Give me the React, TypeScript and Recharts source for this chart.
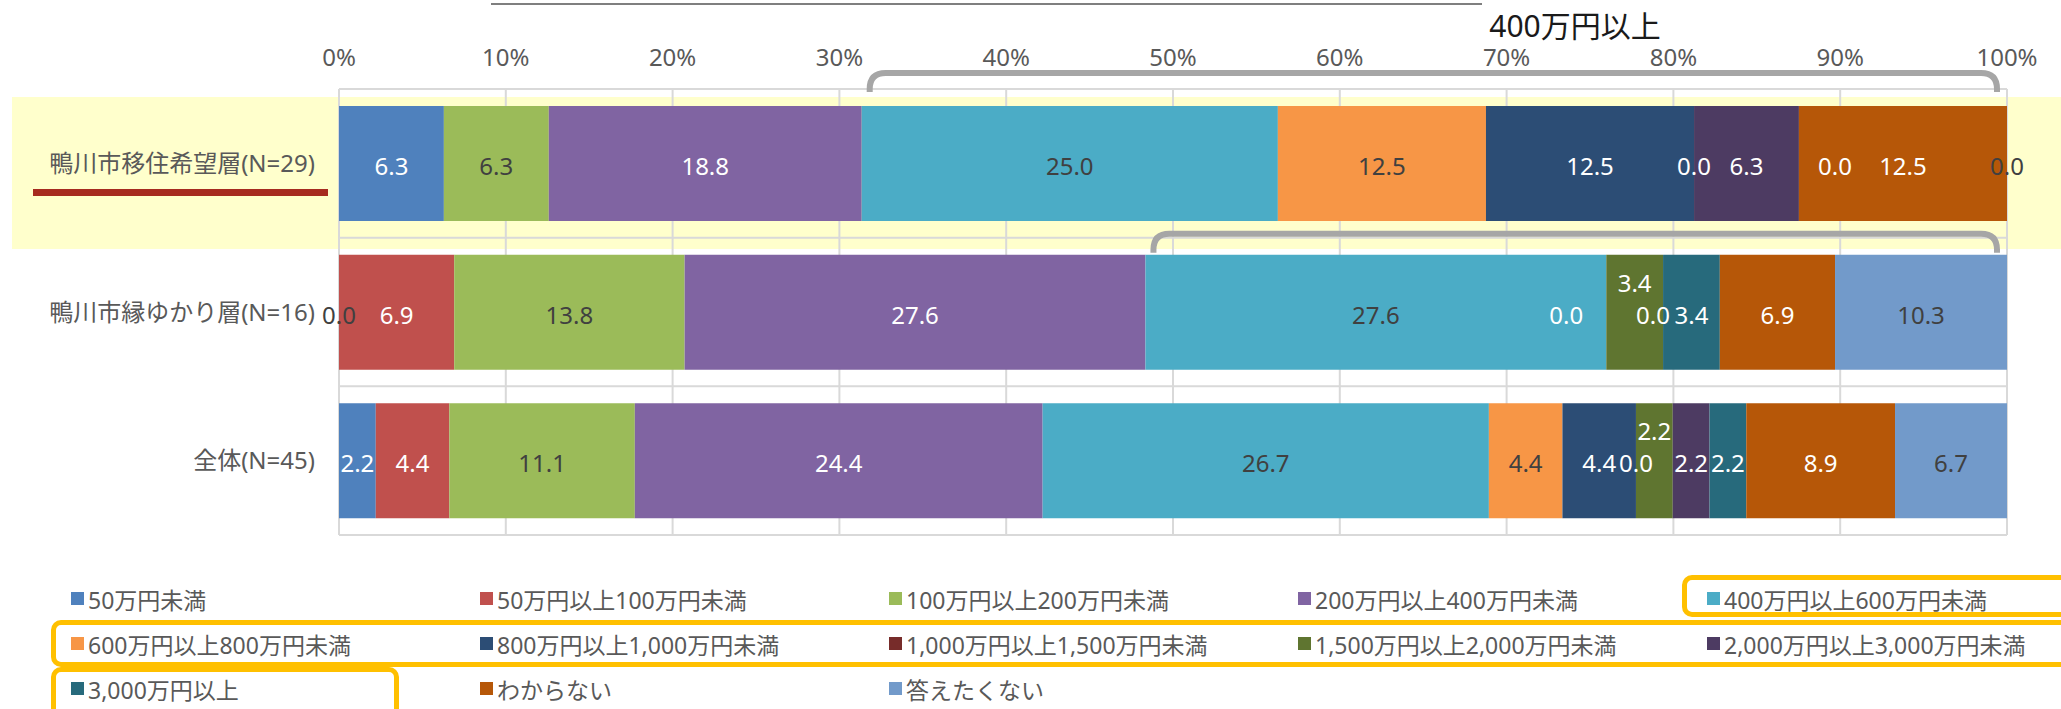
import {
  BarChart,
  Bar,
  XAxis,
  YAxis,
  CartesianGrid,
  LabelList,
  Legend,
  ReferenceArea,
  ReferenceDot,
} from "recharts";

const categories = ["鴨川市移住希望層(N=29)", "鴨川市縁ゆかり層(N=16)", "全体(N=45)"];

const seriesNames = [
  "50万円未満",
  "50万円以上100万円未満",
  "100万円以上200万円未満",
  "200万円以上400万円未満",
  "400万円以上600万円未満",
  "600万円以上800万円未満",
  "800万円以上1,000万円未満",
  "1,000万円以上1,500万円未満",
  "1,500万円以上2,000万円未満",
  "2,000万円以上3,000万円未満",
  "3,000万円以上",
  "わからない",
  "答えたくない",
];

const seriesColors = [
  "#4F81BD",
  "#C0504D",
  "#9BBB59",
  "#8064A2",
  "#4BACC6",
  "#F79646",
  "#2C4D75",
  "#772C2A",
  "#5F7530",
  "#4D3B62",
  "#276A7C",
  "#B65708",
  "#729ACA",
];

// values per series (%), in category order
const under50 = [6.3, 0.0, 2.2];
const from50to100 = [0.0, 6.9, 4.4];
const from100to200 = [6.3, 13.8, 11.1];
const from200to400 = [18.8, 27.6, 24.4];
const from400to600 = [25.0, 27.6, 26.7];
const from600to800 = [12.5, 0.0, 4.4];
const from800to1000 = [12.5, 0.0, 4.4];
const from1000to1500 = [0.0, 0.0, 0.0];
const from1500to2000 = [0.0, 3.4, 2.2];
const from2000to3000 = [6.3, 0.0, 2.2];
const over3000 = [0.0, 3.4, 2.2];
const unknown = [12.5, 6.9, 8.9];
const noAnswer = [0.0, 10.3, 6.7];

const seriesValues = [
  under50,
  from50to100,
  from100to200,
  from200to400,
  from400to600,
  from600to800,
  from800to1000,
  from1000to1500,
  from1500to2000,
  from2000to3000,
  over3000,
  unknown,
  noAnswer,
];

const xTicks = [0, 0.1, 0.2, 0.3, 0.4, 0.5, 0.6, 0.7, 0.8, 0.9, 1];

// label tweaks seen in the original
const darkLabelSeries = [2, 4, 5, 12];
const raisedLabelSeries = [8];
const hiddenZeroLabels = [{ row: 0, series: 1 }];
const zeroLabelShift = [
  { row: 0, series: 10, dx: 36 },
  { row: 1, series: 7, dx: -40 },
  { row: 1, series: 9, dx: -10 },
];

// "400万円以上" brackets: rows, starting at the 400-600 series
const bracketRows = [0, 1];
const bracketFromSeries = 4;
const bracketLift = [-16, -4];

const data = categories.map((name, r) => {
  const row: Record<string, any> = { name };
  seriesValues.forEach((vals, s) => {
    row[`s${s}`] = vals[r];
  });
  return row;
});

const rowTotals = categories.map((_, r) =>
  seriesValues.reduce((acc, vals) => acc + vals[r], 0)
);

const cumulativeBefore = (r: number, s: number) =>
  seriesValues.slice(0, s).reduce((acc, vals) => acc + vals[r], 0) / rowTotals[r];

// zero-valued segments have no width, so their "0.0" labels are placed at the
// stack position; duplicates at the same spot are drawn once (last series wins)
const zeroLabels = (() => {
  const out: { row: number; series: number; pos: number }[] = [];
  categories.forEach((_, r) => {
    seriesValues.forEach((vals, s) => {
      if (vals[r] !== 0) return;
      if (hiddenZeroLabels.some((h) => h.row === r && h.series === s)) return;
      const pos = cumulativeBefore(r, s);
      const same = out.findIndex((z) => z.row === r && Math.abs(z.pos - pos) < 1e-9);
      if (same >= 0) out.splice(same, 1);
      out.push({ row: r, series: s, pos });
    });
  });
  return out;
})();

const FONT = "'Noto Sans', 'Noto Sans CJK JP', sans-serif";
const GRAY_TEXT = "#595959";
const DARK_LABEL = "#404040";

function makeLabel(s: number) {
  return (props: any) => {
    const { x, y, width, height, value } = props;
    if (!value) return null;
    const dark = darkLabelSeries.includes(s);
    const lift = raisedLabelSeries.includes(s) ? 32 : 0;
    return (
      <text
        x={Number(x) + Number(width) / 2}
        y={Number(y) + Number(height) / 2 + 2 - lift}
        fill={dark ? DARK_LABEL : "#FFFFFF"}
        fontSize={24}
        fontFamily={FONT}
        textAnchor="middle"
        dominantBaseline="central"
      >
        {Number(value).toFixed(1)}
      </text>
    );
  };
}

function makeZeroLabel(row: number, s: number) {
  return (props: any) => {
    const { cx, cy } = props;
    const shift = zeroLabelShift.find((z) => z.row === row && z.series === s);
    const dark = darkLabelSeries.includes(s) || s === 0;
    return (
      <text
        x={Number(cx) + (shift ? shift.dx : 0)}
        y={Number(cy) + 2}
        fill={dark ? DARK_LABEL : "#FFFFFF"}
        fontSize={24}
        fontFamily={FONT}
        textAnchor="middle"
        dominantBaseline="central"
      >
        {(0).toFixed(1)}
      </text>
    );
  };
}

function makeBracket(row: number) {
  return (props: any) => {
    const { x, y, width, height } = props;
    const band = height / categories.length;
    const yTop = y + row * band + bracketLift[row];
    const yBot = yTop + 19;
    const x0 = x + 8;
    const x1 = x + width - 10;
    const r = 16;
    const d = `M${x0},${yBot} L${x0},${yTop + r} Q${x0},${yTop} ${x0 + r},${yTop} L${x1 - r},${yTop} Q${x1},${yTop} ${x1},${yTop + r} L${x1},${yBot}`;
    return <path d={d} fill="none" stroke="#A6A6A6" strokeWidth={6} />;
  };
}

const renderLegend = () => (
  <div
    style={{
      display: "grid",
      gridTemplateColumns: "repeat(5, 409px)",
      gridAutoRows: "45px",
      paddingLeft: 71,
      fontFamily: FONT,
    }}
  >
    {seriesNames.map((n, i) => (
      <div
        key={n}
        style={{
          display: "flex",
          alignItems: "center",
          fontSize: 23,
          color: GRAY_TEXT,
          whiteSpace: "nowrap",
        }}
      >
        <span
          style={{
            display: "inline-block",
            width: 13,
            height: 13,
            background: seriesColors[i],
            marginRight: 4,
          }}
        />
        {n}
      </div>
    ))}
  </div>
);

const box = (left: number, top: number, width: number, height: number) => ({
  position: "absolute" as const,
  left,
  top,
  width,
  height,
  border: "5px solid #FFC000",
  borderRadius: 10,
  boxSizing: "border-box" as const,
});

export default function App() {
  return (
    <div
      style={{
        position: "absolute",
        left: 0,
        top: 0,
        width: 2061,
        height: 709,
        overflow: "hidden",
        background: "#FFFFFF",
        fontFamily: FONT,
      }}
    >
      {/* highlight behind the first row */}
      <div
        style={{
          position: "absolute",
          left: 12,
          top: 97,
          width: 2049,
          height: 152,
          background: "#FFFFCC",
        }}
      />
      {/* cut-off title underline */}
      <div
        style={{
          position: "absolute",
          left: 491,
          top: 3,
          width: 991,
          height: 2,
          background: "#7F7F7F",
        }}
      />
      <div
        style={{
          position: "absolute",
          left: 1575,
          top: 26,
          transform: "translate(-50%, -50%)",
          fontSize: 30,
          lineHeight: 1,
          color: "#1A1A1A",
          whiteSpace: "nowrap",
        }}
      >
        400万円以上
      </div>
      <div style={{ position: "absolute", left: 0, top: 0 }}>
        <BarChart
          width={2061}
          height={709}
          data={data}
          layout="vertical"
          stackOffset="expand"
          margin={{ top: 0, right: 54, bottom: 174, left: 0 }}
          barSize={115}
        >
          <CartesianGrid
            stroke="#D9D9D9"
            strokeWidth={2}
            horizontalCoordinatesGenerator={({ offset }: any) =>
              [0, 1, 2, 3].map((i) => offset.top + (i * offset.height) / 3)
            }
          />
          <XAxis
            type="number"
            orientation="top"
            domain={[0, 1]}
            ticks={xTicks}
            tickFormatter={(v) => `${Math.round(v * 100)}%`}
            height={89}
            axisLine={false}
            tickLine={false}
            tickSize={0}
            tickMargin={23}
            tick={{ fill: GRAY_TEXT, fontSize: 24, fontFamily: FONT }}
          />
          <YAxis
            type="category"
            dataKey="name"
            width={339}
            axisLine={false}
            tickLine={false}
            tickSize={0}
            tickMargin={24}
            tick={{ fill: GRAY_TEXT, fontSize: 24, fontFamily: FONT }}
          />
          {seriesNames.map((n, s) => (
            <Bar
              key={n}
              dataKey={`s${s}`}
              name={n}
              stackId="a"
              fill={seriesColors[s]}
              isAnimationActive={false}
            >
              <LabelList dataKey={`s${s}`} content={makeLabel(s)} />
            </Bar>
          ))}
          {zeroLabels.map((z) => (
            <ReferenceDot
              key={`z${z.row}-${z.series}`}
              x={z.pos}
              y={categories[z.row]}
              r={1}
              ifOverflow="visible"
              shape={makeZeroLabel(z.row, z.series)}
            />
          ))}
          {bracketRows.map((row) => (
            <ReferenceArea
              key={`br${row}`}
              x1={cumulativeBefore(row, bracketFromSeries)}
              x2={1}
              ifOverflow="visible"
              shape={makeBracket(row)}
            />
          ))}
          <Legend
            layout="horizontal"
            verticalAlign="middle"
            align="center"
            content={renderLegend}
            wrapperStyle={{ top: 576, left: 0, width: 2061, height: 135 }}
          />
        </BarChart>
      </div>
      {/* red underline under the first category */}
      <div
        style={{
          position: "absolute",
          left: 33,
          top: 189,
          width: 295,
          height: 7,
          background: "#A62B1F",
        }}
      />
      {/* orange highlight boxes around legend entries */}
      <div style={box(1682, 575, 420, 42)} />
      <div style={box(51, 620, 2060, 47)} />
      <div style={box(51, 667, 348, 60)} />
    </div>
  );
}
